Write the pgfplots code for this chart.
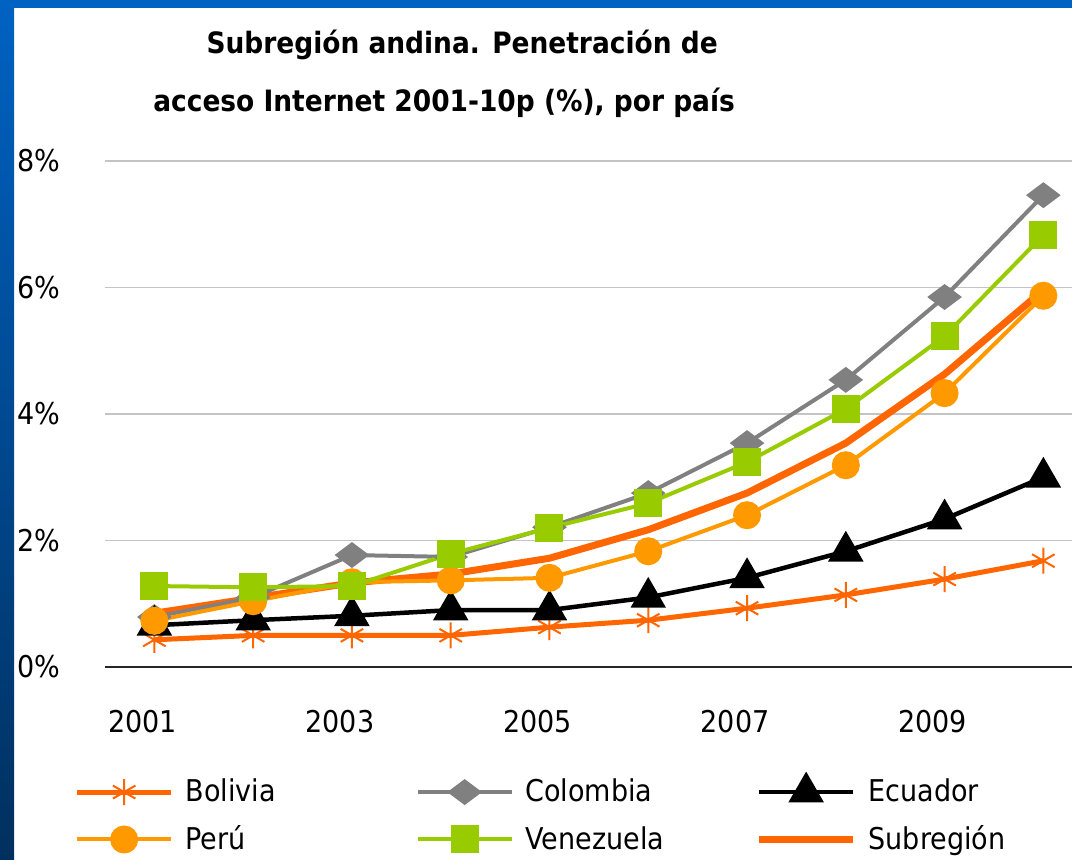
\documentclass[border=0pt]{standalone}
\usepackage{pgfplots}
\pgfplotsset{compat=1.18}
\usepackage{fontspec}
\setmainfont{DejaVu Sans Condensed}
\definecolor{cBol}{HTML}{FF6600}
\definecolor{cCol}{HTML}{808080}
\definecolor{cEcu}{HTML}{000000}
\definecolor{cPer}{HTML}{FF9900}
\definecolor{cVen}{HTML}{99CC00}
\definecolor{cSub}{HTML}{FF6600}
\definecolor{bluetop}{HTML}{0062C2}
\definecolor{bluebot}{HTML}{00305F}
\definecolor{gridc}{HTML}{C4C4C4}
\begin{document}
\begin{tikzpicture}[font=\fontsize{15pt}{18pt}\selectfont]
\fill[white] (0,0) rectangle (536pt,429.5pt);
\shade[top color=bluetop, bottom color=bluebot] (0,0) rectangle (7pt,429.5pt);
\fill[bluetop] (0,425.5pt) rectangle (536pt,429.5pt);
\begin{axis}[
  at={(52.5pt,96pt)}, anchor=south west,
  width=483.5pt, height=253pt, scale only axis,
  xmin=2000.5, xmax=2010.29, ymin=0, ymax=8,
  axis x line*=bottom, axis y line*=left,
  x axis line style={black!85, line width=1pt, -},
  y axis line style={draw=none},
  xtick={2001,2003,2005,2007,2009},
  xticklabels={2001,2003,2005,2007,2009},
  ytick={0,2,4,6,8},
  yticklabels={0\%,2\%,4\%,6\%,8\%},
  major tick length=0pt,
  ymajorgrids, grid style={gridc, line width=0.6pt},
  xticklabel style={xshift=-6pt, yshift=-18pt},
  yticklabel style={xshift=-19pt},
  title={\hspace*{9pt}Subregión andina. Penetración de\\[11.5pt]acceso Internet 2001-10p (\%), por país\hspace*{9pt}},
  title style={font=\fontsize{14.7pt}{17.6pt}\selectfont\bfseries, align=center, at={(0.36,1)}, anchor=south, yshift=12pt},
  legend columns=3,
  legend cell align=left,
  legend style={draw=none, fill=none, inner sep=0pt, at={(-0.0318,-0.213)}, anchor=north west,
    row sep=6.5pt, /tikz/every odd column/.append style={column sep=4pt}},
  legend image code/.code={\draw[mark repeat=2, mark phase=2] plot coordinates {(0pt,0pt) (23.5pt,0pt) (47pt,0pt)};},
]
% Subregion drawn first (beneath), legend added last
\addplot[cSub, line width=3.5pt, no markers, forget plot] coordinates {
(2001,0.85) (2002,1.09) (2003,1.33) (2004,1.47) (2005,1.72) (2006,2.17) (2007,2.75) (2008,3.54) (2009,4.63) (2010,5.96)};
\addplot[cBol, line width=2.5pt, mark=asterisk, mark size=6.5pt, mark options={line width=1pt}] coordinates {
(2001,0.43) (2002,0.50) (2003,0.50) (2004,0.50) (2005,0.63) (2006,0.74) (2007,0.93) (2008,1.14) (2009,1.39) (2010,1.68)};
\addlegendentry{\makebox[113pt][l]{Bolivia}}
\addplot[cCol, line width=2pt, mark=diamond*, mark size=7pt, mark options={rotate=90}] coordinates {
(2001,0.79) (2002,1.10) (2003,1.77) (2004,1.74) (2005,2.21) (2006,2.75) (2007,3.54) (2008,4.54) (2009,5.85) (2010,7.46)};
\addlegendentry{\makebox[113pt][l]{Colombia}}
\addplot[cEcu, line width=2.25pt, mark=triangle*, mark size=8pt] coordinates {
(2001,0.66) (2002,0.74) (2003,0.81) (2004,0.90) (2005,0.90) (2006,1.10) (2007,1.41) (2008,1.83) (2009,2.34) (2010,3.00)};
\addlegendentry{Ecuador}
\addplot[cPer, line width=2pt, mark=*, mark size=6pt] coordinates {
(2001,0.73) (2002,1.04) (2003,1.34) (2004,1.37) (2005,1.41) (2006,1.83) (2007,2.40) (2008,3.19) (2009,4.33) (2010,5.87)};
\addlegendentry{\makebox[113pt][l]{Perú}}
\addplot[cVen, line width=2pt, mark=square*, mark size=6pt] coordinates {
(2001,1.28) (2002,1.26) (2003,1.28) (2004,1.79) (2005,2.20) (2006,2.59) (2007,3.24) (2008,4.08) (2009,5.23) (2010,6.83)};
\addlegendentry{\makebox[113pt][l]{Venezuela}}
\addlegendimage{cSub, line width=3.5pt, no markers}
\addlegendentry{Subregión}
\end{axis}
\pgfresetboundingbox
\useasboundingbox (0,0) rectangle (536pt,429.5pt);
\end{tikzpicture}
\end{document}
